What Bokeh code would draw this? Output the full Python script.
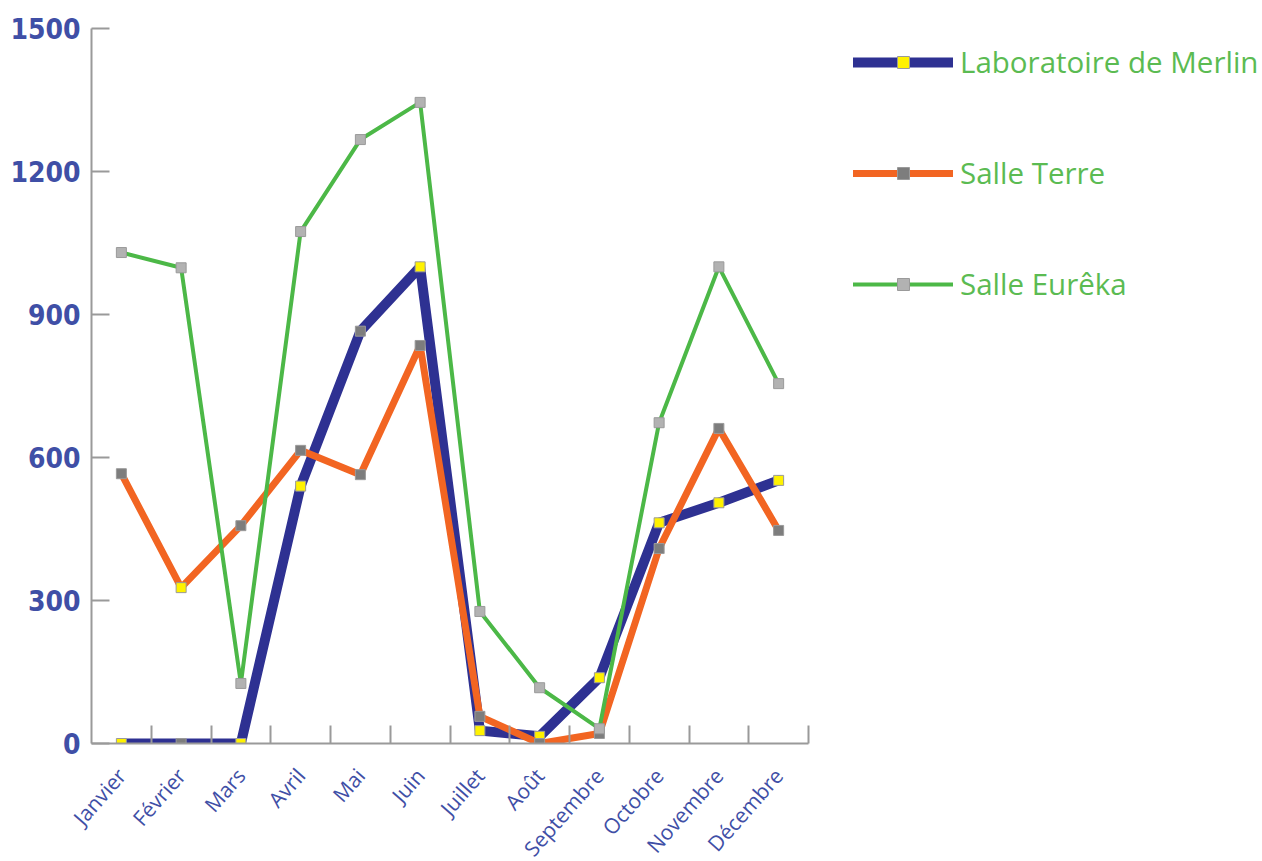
import math
from bokeh.plotting import figure
from bokeh.models import FixedTicker, Legend, LegendItem, ColumnDataSource, Range1d
from bokeh.embed import file_html
from bokeh.resources import INLINE

# ---- data ----
months = ["Janvier", "Février", "Mars", "Avril", "Mai", "Juin", "Juillet",
          "Août", "Septembre", "Octobre", "Novembre", "Décembre"]
merlin = [0, 0, 0, 540, 865, 1000, 27, 15, 138, 463, 505, 552]
terre = [566, 327, 457, 615, 564, 835, 57, 0, 21, 409, 661, 447]
eureka = [1030, 998, 126, 1074, 1267, 1345, 277, 117, 31, 673, 1000, 755]
y_ticks = [0, 300, 600, 900, 1200, 1500]
series_names = ["Laboratoire de Merlin", "Salle Terre", "Salle Eurêka"]

# ---- styles ----
YEL = "#fff200"
GRY = "#7d7d7d"
LGR = "#b2b2b2"
merlin_marker = [YEL, GRY, YEL, YEL, GRY, YEL, YEL, YEL, YEL, YEL, YEL, YEL]
terre_marker = [GRY, YEL, GRY, GRY, GRY, GRY, GRY, GRY, GRY, GRY, GRY, GRY]
eureka_marker = [LGR] * 12
line_colors = ["#2e3192", "#f26522", "#4cb847"]
line_widths = [10, 7, 4]
AXIS_COLOR = "#9a9a9a"
TICK_TEXT = "#3f4fa6"
LEGEND_TEXT = "#5bbb52"

n = len(months)
xpos = [i + 0.5 for i in range(n)]

p = figure(frame_width=717, frame_height=715,
           min_border_left=91, min_border_top=28, min_border_right=450, min_border_bottom=100,
           x_range=Range1d(0, n), y_range=Range1d(0, 1500),
           output_backend="svg", toolbar_location=None, tools="")
p.outline_line_color = None
p.grid.grid_line_color = None
p.background_fill_color = "white"
p.border_fill_color = "white"

# y axis
ya = p.yaxis[0]
ya.ticker = FixedTicker(ticks=y_ticks, minor_ticks=[])
ya.axis_line_color = AXIS_COLOR
ya.axis_line_width = 2
ya.major_tick_line_color = AXIS_COLOR
ya.major_tick_line_width = 2
ya.major_tick_in = 18
ya.major_tick_out = 0
ya.minor_tick_line_color = None
ya.major_label_standoff = 11
ya.major_label_text_color = TICK_TEXT
ya.major_label_text_font = "DejaVu Sans Condensed"
ya.major_label_text_font_style = "bold"
ya.major_label_text_font_size = "28px"

# x axis: labels at centres, ticks at boundaries
xa = p.xaxis[0]
xa.ticker = FixedTicker(ticks=xpos, minor_ticks=list(range(1, n + 1)))
xa.major_label_overrides = {x: m for x, m in zip(xpos, months)}
xa.axis_line_color = AXIS_COLOR
xa.axis_line_width = 2
xa.major_tick_line_color = None
xa.minor_tick_line_color = AXIS_COLOR
xa.minor_tick_line_width = 2
xa.minor_tick_in = 18
xa.minor_tick_out = 0
xa.major_label_orientation = 0.85
xa.major_label_standoff = 22
xa.major_label_text_color = TICK_TEXT
xa.major_label_text_font = "Open Sans"
xa.major_label_text_font_size = "21px"

items = []
for name, vals, mcols, col, lw in zip(series_names, [merlin, terre, eureka],
                                       [merlin_marker, terre_marker, eureka_marker],
                                       line_colors, line_widths):
    src = ColumnDataSource(dict(x=xpos, y=vals, mc=mcols))
    ln = p.line("x", "y", source=src, line_color=col, line_width=lw,
                line_join="round", line_cap="round")
    sc = p.scatter("x", "y", source=src, marker="square", size=10,
                   fill_color="mc", line_color="#9a9a9a", line_width=1)
    items.append(LegendItem(label=name, renderers=[ln, sc], index=0))

legend = Legend(items=items, location=(45, 439), margin=0, padding=0,
                glyph_width=100, glyph_height=30, label_height=30,
                spacing=70, label_standoff=7,
                label_text_font="Open Sans", label_text_font_size="29.5px",
                label_text_color=LEGEND_TEXT,
                border_line_color=None, background_fill_alpha=0)
p.add_layout(legend, "right")

open("out.html", "w").write(file_html(p, INLINE))
